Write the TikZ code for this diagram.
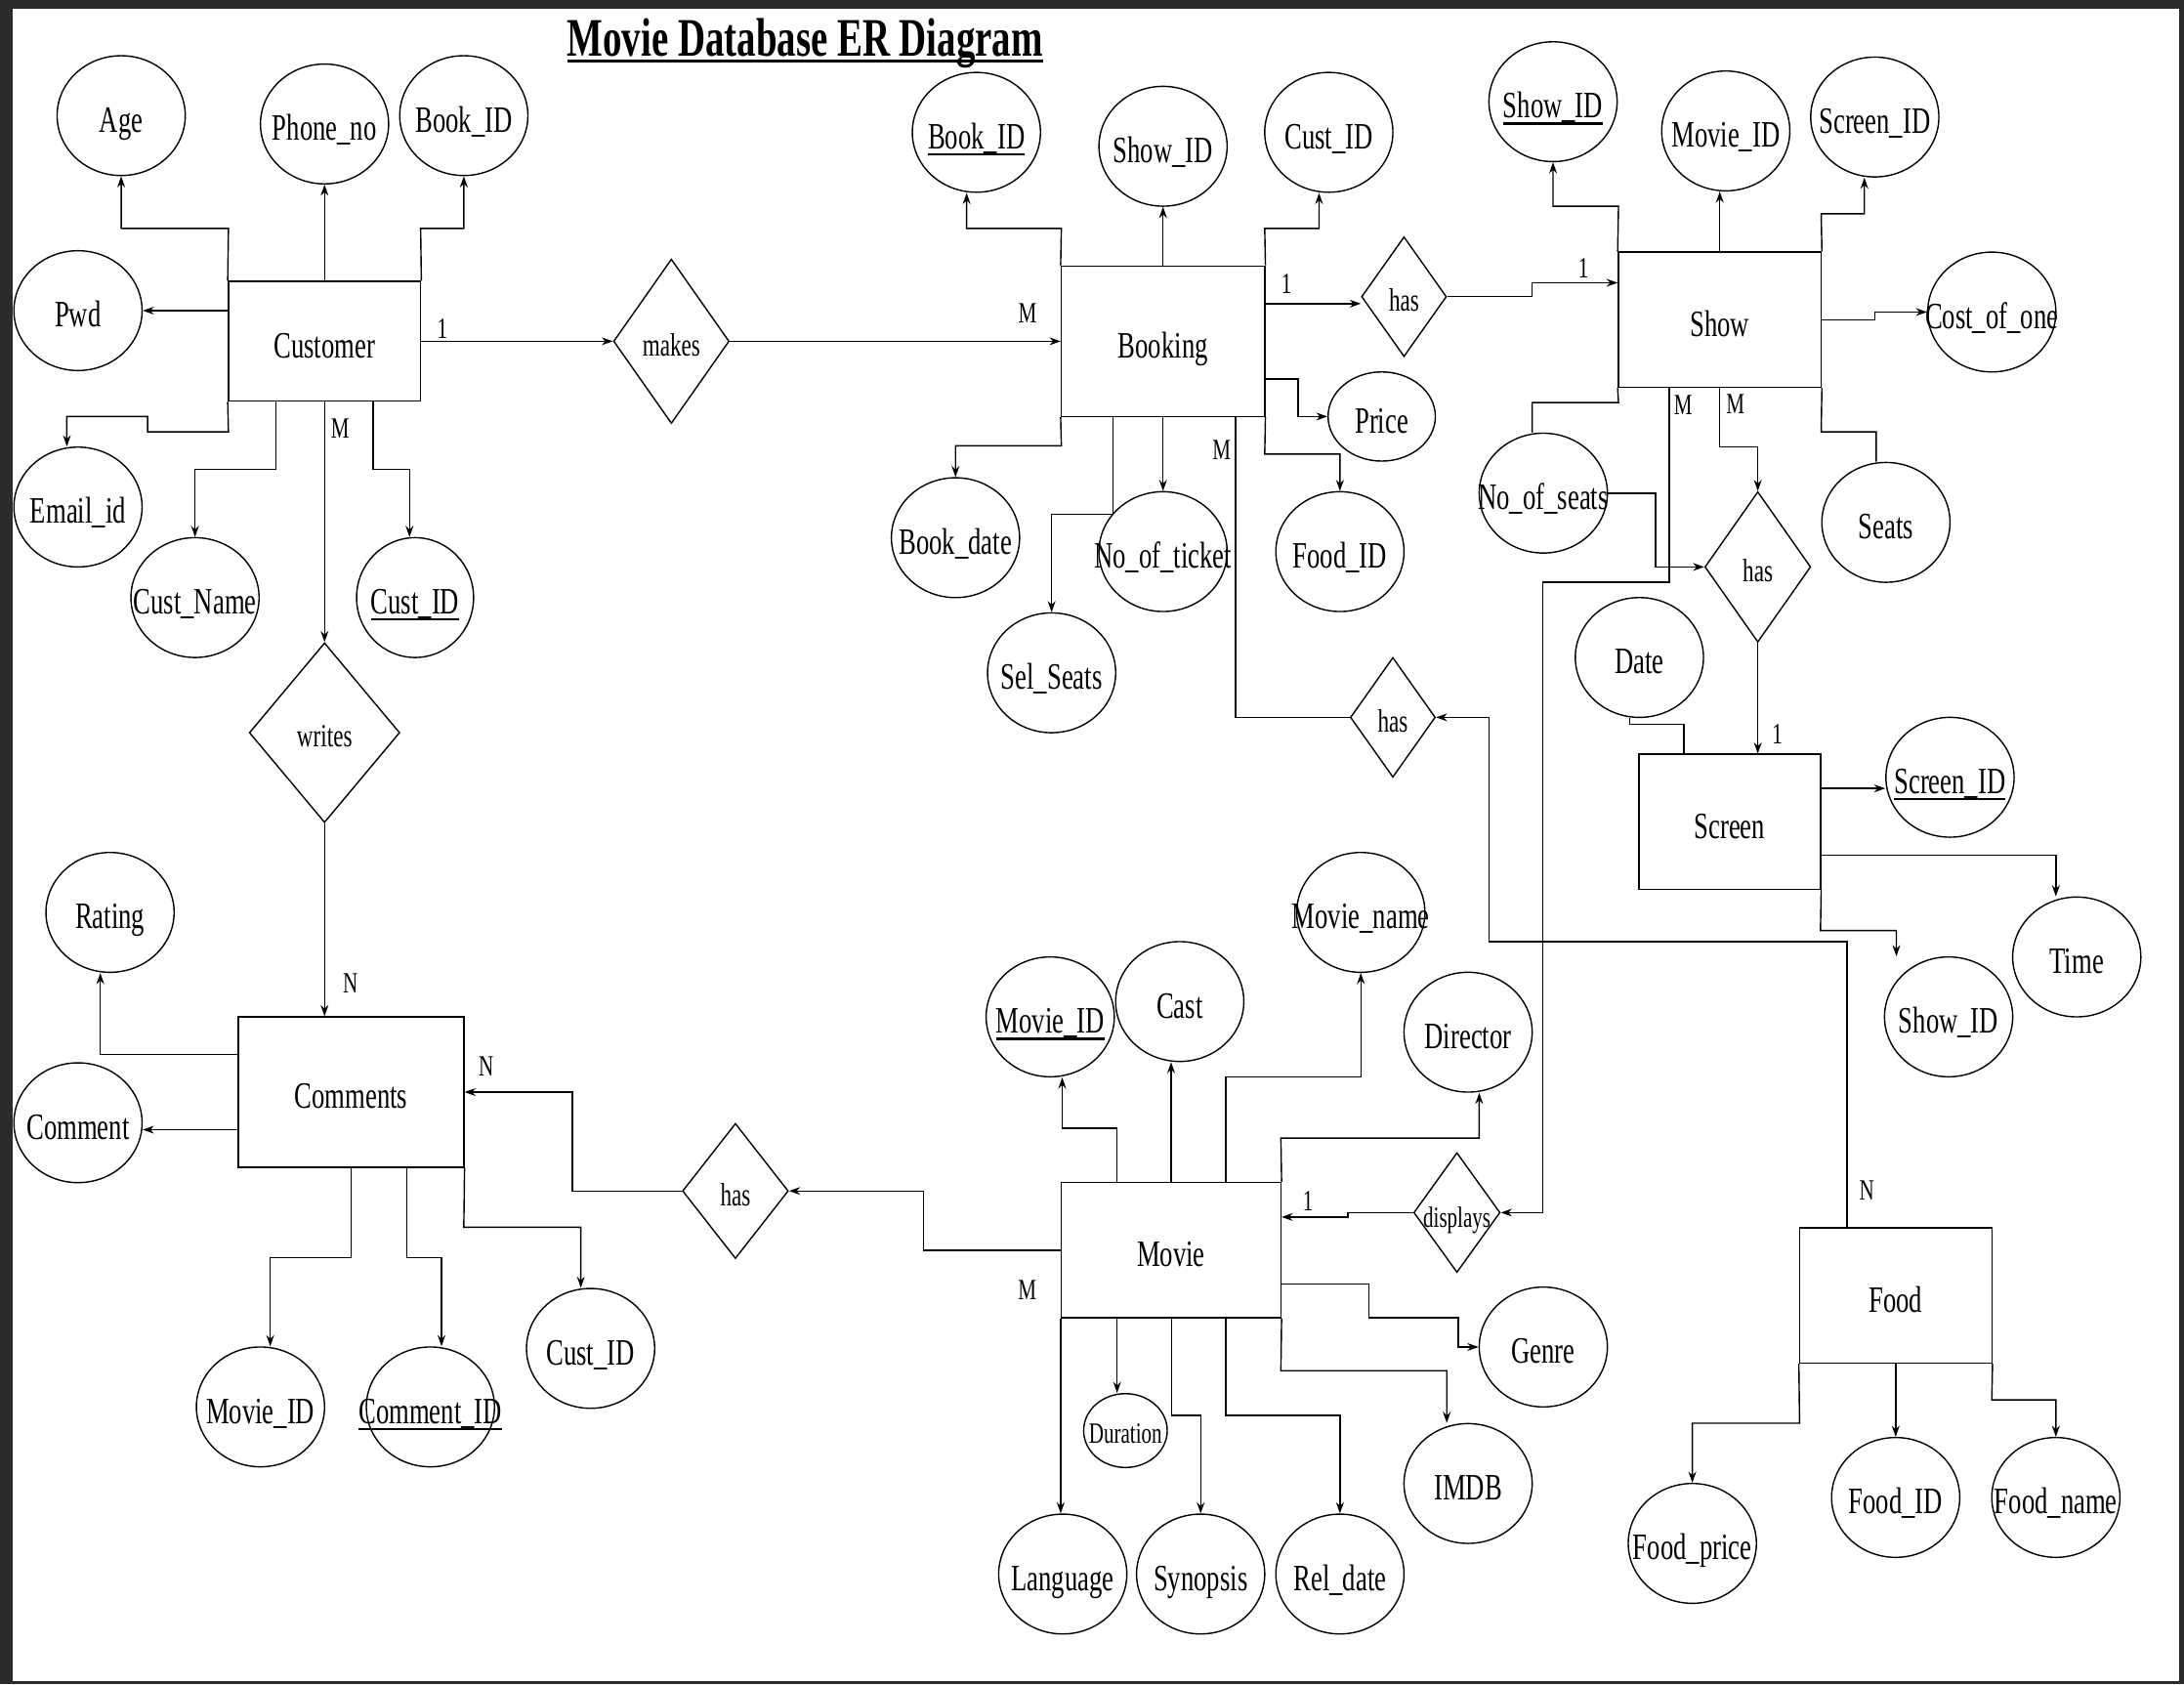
\documentclass[tikz,border=0pt]{standalone}
\usepackage{fontspec}
\setmainfont[FakeStretch=0.70]{Liberation Serif}
\usepackage{tikz}
\usetikzlibrary{shapes.geometric}
\usetikzlibrary{arrows.meta}
\usetikzlibrary{positioning}
\definecolor{framegray}{HTML}{2B2B2B}
\newcommand{\attrfont}{\fontsize{19}{22}\selectfont}
\newcommand{\relfont}{\fontsize{16.5}{19}\selectfont}
\newcommand{\cardfont}{\fontsize{15}{18}\selectfont}
\newcommand{\erdtitlefont}{\fontsize{27.7}{32}\selectfont\bfseries}
\newcommand{\ulined}[3]{\setbox0\hbox{#3}\leavevmode\rlap{\rule[-#2]{\wd0}{#1}}\box0}
\newcommand{\pkey}[1]{\ulined{1.2pt}{3.4pt}{#1}}

\begin{document}
\begin{tikzpicture}[x=0.025cm,y=-0.025cm,line width=0.7pt,>={Stealth[length=0.2cm,width=0.14cm]},
   attr/.style={ellipse,draw,minimum width=2.3cm,minimum height=2.15cm,inner xsep=-1.5cm,inner ysep=0pt,text height=18pt,text depth=1.2pt,font=\attrfont},
   ent/.style={rectangle,draw,inner sep=0pt,text height=18pt,text depth=1.2pt,font=\attrfont},
   rel/.style={diamond,draw,inner xsep=-1.5cm,inner ysep=0pt,text height=16pt,text depth=1.2pt,font=\relfont},
   card/.style={inner sep=0pt,font=\cardfont}]
   \fill[framegray] (0,0) rectangle (1568,1209);
   \fill[white] (9.4,6.3) rectangle (1564.5,1207);
   \node[font=\erdtitlefont] (title) at (578,31) {\ulined{1.6pt}{3.3pt}{Movie Database ER Diagram}};

   \node[ent,minimum width=3.45cm,minimum height=2.15cm] (cust) at (233,245) {Customer};
   \node[ent,minimum width=3.65cm,minimum height=2.7cm] (book) at (835,245) {Booking};
   \node[ent,minimum width=3.64cm,minimum height=2.425cm] (show) at (1234.7,229.5) {Show};
   \node[ent,minimum width=3.26cm,minimum height=2.425cm] (screen) at (1241.8,590) {Screen};
   \node[ent,minimum width=4.05cm,minimum height=2.7cm] (comm) at (252,784) {Comments};
   \node[ent,minimum width=3.94cm,minimum height=2.425cm] (movie) at (840.8,897.5) {Movie};
   \node[ent,minimum width=3.45cm,minimum height=2.425cm] (food) at (1361,930) {Food};

   \node[rel,minimum width=2.075cm,minimum height=2.95cm] (makes) at (482,245) {makes};
   \node[rel,minimum width=2.7cm,minimum height=3.225cm] (writes) at (233,526) {writes};
   \node[rel,minimum width=1.525cm,minimum height=2.15cm] (hasbs) at (1008,213) {has};
   \node[rel,minimum width=1.525cm,minimum height=2.15cm] (hasbf) at (1000,515) {has};
   \node[rel,minimum width=1.9cm,minimum height=2.7cm] (hasss) at (1262,407) {has};
   \node[rel,minimum width=1.9cm,minimum height=2.425cm] (hasmc) at (528,855) {has};
   \node[rel,minimum width=1.55cm,minimum height=2.15cm,font=\cardfont] (disp) at (1046,870.5) {displays};

   \node[attr] (age) at (87,83) {Age};
   \node[attr] (phone) at (233,89) {Phone\_no};
   \node[attr] (cbook) at (333,83) {Book\_ID};
   \node[attr] (pwd) at (56,223) {Pwd};
   \node[attr] (email) at (56,364) {Email\_id};
   \node[attr] (cname) at (140,429) {Cust\_Name};
   \node[attr,minimum width=2.1cm] (cid) at (298,429) {\pkey{Cust\_ID}};

   \node[attr] (bbook) at (701,95) {\pkey{Book\_ID}};
   \node[attr] (bshow) at (835,105) {Show\_ID};
   \node[attr] (bcust) at (954,95) {Cust\_ID};
   \node[attr,minimum width=1.925cm,minimum height=1.6cm] (price) at (992,299) {Price};
   \node[attr] (bfood) at (962,396) {Food\_ID};
   \node[attr] (bdate) at (686,386) {Book\_date};
   \node[attr] (ticket) at (835,396) {No\_of\_ticket};
   \node[attr] (sel) at (755,483) {Sel\_Seats};

   \node[attr] (sshow) at (1115,73) {\pkey{Show\_ID}};
   \node[attr] (smovie) at (1239,94) {Movie\_ID};
   \node[attr] (sscreen) at (1346,84) {Screen\_ID};
   \node[attr] (cost) at (1430,224) {Cost\_of\_one};
   \node[attr] (noseats) at (1108,354) {No\_of\_seats};
   \node[attr] (seats) at (1354,375) {Seats};

   \node[attr] (date) at (1177,472) {Date};
   \node[attr] (scid) at (1400,558) {\pkey{Screen\_ID}};
   \node[attr] (time) at (1491,687) {Time};
   \node[attr] (scshow) at (1399,730) {Show\_ID};

   \node[attr] (rating) at (79,655) {Rating};
   \node[attr] (comment) at (56,806) {Comment};
   \node[attr] (cmovie) at (187,1010) {Movie\_ID};
   \node[attr] (commid) at (309,1010) {\pkey{Comment\_ID}};
   \node[attr] (ccid) at (424,968) {Cust\_ID};

   \node[attr] (mid) at (754,730) {\pkey{Movie\_ID}};
   \node[attr] (cast) at (847,719) {Cast};
   \node[attr] (mname) at (977,655) {Movie\_name};
   \node[attr] (dir) at (1054,741) {Director};
   \node[attr] (genre) at (1108,967) {Genre};
   \node[attr] (imdb) at (1054,1065) {IMDB};
   \node[attr,minimum width=1.5cm,minimum height=1.325cm,text height=14pt,font=\cardfont] (dur) at (808,1027) {Duration};
   \node[attr] (lang) at (763,1130) {Language};
   \node[attr] (syn) at (862,1130) {Synopsis};
   \node[attr] (reldate) at (962,1130) {Rel\_date};

   \node[attr] (fprice) at (1215,1108) {Food\_price};
   \node[attr] (fid) at (1361,1075) {Food\_ID};
   \node[attr] (fname) at (1476,1075) {Food\_name};

   \draw[->] (cust.north west) -- (164,164) -| (age);
   \draw[->] (cust.north) -- (phone);
   \draw[->] (cust.north east) -- (302,164) -| (cbook);
   \draw[->] (cust.west |- pwd) -- (pwd);
   \draw[->] (cust.south west) -- (164,310) -- (106,310) -- (106,299) -| (email.north -| 48,0);
   \draw[->] (cust.south -| 198,0) -- (198,337) -| (cname);
   \draw[->] (cust.south -| 268,0) -- (268,337) -| (cid.north -| 294,0);
   \draw[->] (cust) -- node[card,pos=0.11,above=1pt] {1} (makes);
   \draw[->] (makes) -- node[card,pos=0.9,above=9pt] {M} (book);
   \draw[->] (cust) -- node[card,pos=0.11,right=3pt] {M} (writes);
   \draw[->] (writes) -- node[card,pos=0.83,right=9pt] {N} (writes |- comm.north);

   \draw[->] (comm.west |- 0,757) -| (rating.south -| 72,0);
   \draw[->] (comm.west |- 0,811) -- (comment.east |- 0,811);
   \draw[->] (hasmc) -- (411,855) |- node[card,pos=0.9,above=8pt] {N} (comm.east);
   \draw[->] (movie.west) -- node[card,pos=0,below left=15pt and 12pt] {M} (663,897.5) |- (hasmc);
   \draw[->] (comm.south -| 252,0) -- (252,903) -| (cmovie.north -| 194,0);
   \draw[->] (comm.south -| 292,0) -- (292,903) -| (commid.north -| 317,0);
   \draw[->] (comm.south east) -- (333,881) -| (ccid.north -| 417,0);

   \draw[->] (book.north west) -- (762,164) -| (bbook.south -| 694,0);
   \draw[->] (book.north) -- (bshow);
   \draw[->] (book.north east) -- (908,164) -| (bcust.south -| 947,0);
   \draw[->] (book.east |- 0,218) -- node[card,pos=0.22,above=5pt] {1} (hasbs.west |- 0,218);
   \draw[->] (hasbs) -- (1100,213) |- node[card,pos=0.8,above=2pt] {1} (show.west |- 0,203);
   \draw[->] (book.east |- 0,272) -- (932,272) |- (price);
   \draw[->] (book.south east) -- (908,326) -| (bfood);
   \draw[->] (book.south west) -- (762,320) -| (bdate);
   \draw[->] (book.south) -- (ticket);
   \draw[->] (book.south -| 799,0) -- (799,369) -| (sel);
   \draw (book.south -| 887,0) |- node[card,pos=0.055,left=2pt] {M} (hasbf);
   \draw[->] (food.north -| 1326,0) |- node[card,pos=0.065,right=6pt] {N} (1069,676) |- (hasbf);

   \draw[->] (show.north west) -- (1162,148) -| (sshow);
   \draw[->] (show.north) -- (show.north |- smovie.south);
   \draw[->] (show.north east) -- (1307.5,153.5) -| (sscreen.south -| 1338.5,0);
   \draw[->] (show.east) -- (1346,229.5) |- (cost);
   \draw (show.south east) -- (1307.5,310) -| (seats.north -| 1347,0);
   \draw (show.south west) -- (1162,289) -| (noseats.north -| 1100,0);
   \draw[->] (noseats.east) -- (1188.5,354) |- (hasss);
   \draw[->] (show.south) -- node[card,pos=0.28,right=3pt] {M} (1234.7,321) -| (hasss);
   \draw[->] (show.south -| 1198.5,0) |- node[card,pos=0.043,right=2pt] {M} (1107.5,418) |- (disp);
   \draw[->] (hasss) -- node[card,pos=0.82,right=7pt] {1} (hasss |- screen.north);
   \draw (date.south -| 1170,0) -- (1170,520) -| (screen.north -| 1209,0);

   \draw[->] (screen.east |- 0,566) -- (scid.west |- 0,566);
   \draw[->] (screen.east |- 0,614) -| (time.north -| 1476,0);
   \draw[->] (screen.south east) -- (1307,668) -| (scshow.north -| 1361.5,0);

   \draw[->] (movie.north -| 802,0) -- (802,810) -| (mid.south -| 762.6,0);
   \draw[->] (movie.north) -- (movie.north |- cast.south);
   \draw[->] (movie.north -| 880,0) -- (880,773) -| (mname);
   \draw[->] (movie.north east) -- (919.6,817) -| (dir.south -| 1062,0);
   \draw[->] (disp) -- (967.6,870.5) -- (967.6,873.7) -- node[card,pos=0.6,above=3pt] {1} (movie.east |- 0,873.7);
   \draw[->] (movie.east |- 0,921.7) -| (983,946) -| (1047,967) -- (genre);
   \draw[->] (movie.south east) -- (919.6,984) -| (imdb.north -| 1038.7,0);
   \draw[->] (movie.south west) -- (movie.south west |- lang.north);
   \draw[->] (movie.south -| 802,0) -- (dur.north -| 802,0);
   \draw[->] (movie.south -| 841,0) -- (841,1016) -| (syn);
   \draw[->] (movie.south -| 880,0) -- (880,1016) -| (reldate);

   \draw[->] (food.south west) -- (1292,1021.7) -| (fprice);
   \draw[->] (food.south) -- (fid);
   \draw[->] (food.south east) -- (1430,1005) -| (fname);
\end{tikzpicture}
\end{document}
